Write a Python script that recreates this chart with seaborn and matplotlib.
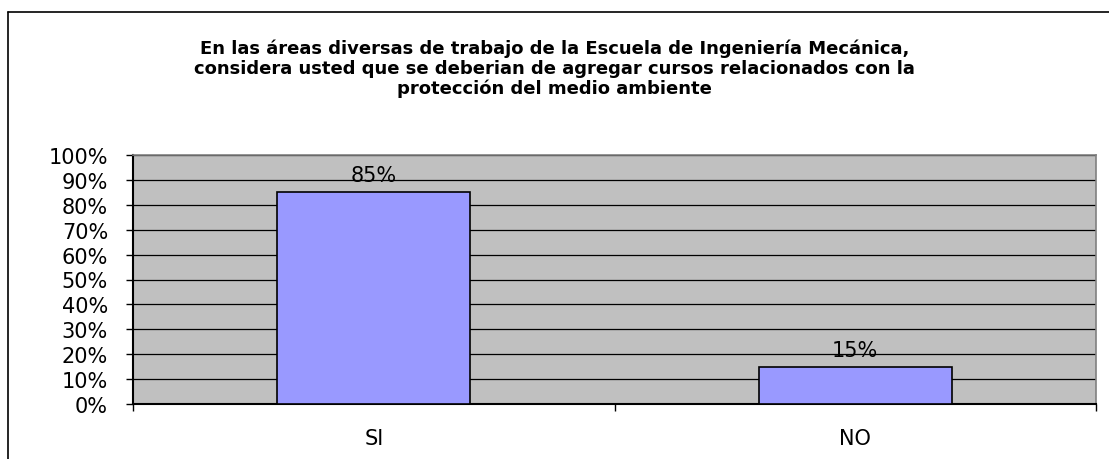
import matplotlib
matplotlib.use("Agg")
import matplotlib.pyplot as plt
import matplotlib.lines as mlines
from matplotlib.ticker import PercentFormatter, FixedLocator
import seaborn as sns
import pandas as pd

# ================= datos =================
categorias = ["SI", "NO"]
porcentajes = [0.85, 0.15]
etiquetas = ["85%", "15%"]
titulo = ("En las áreas diversas de trabajo de la Escuela de Ingeniería Mecánica,\n"
          "considera usted que se deberian de agregar cursos relacionados con la\n"
          "protección del medio ambiente")
# =========================================

sns.set_style("white")
# el original usa letras anchas (Arial estirada); DejaVu Sans se acerca mas
plt.rcParams["font.family"] = ["DejaVu Sans"]

df = pd.DataFrame({"cat": categorias, "val": porcentajes})

fig = plt.figure(figsize=(11.09, 4.60), dpi=100)
ax = fig.add_axes([133 / 1109, 1 - 405 / 460, 963 / 1109, 249 / 460])
ax.set_facecolor("#C0C0C0")

sns.barplot(data=df, x="cat", y="val", color="#9999FF", edgecolor="black",
            linewidth=1.2, width=0.4, saturation=1, ax=ax, zorder=3)

ax.bar_label(ax.containers[0], labels=etiquetas, padding=5, fontsize=15,
             color="black")

ax.set_xlim(-0.5, 1.5)
ax.set_ylim(0, 1)
ax.set_yticks([i / 10 for i in range(11)])
ax.yaxis.set_major_formatter(PercentFormatter(1.0, decimals=0))
ax.tick_params(axis="y", labelsize=15, length=5, width=1, color="black",
               labelcolor="black", pad=13, left=True)
ax.tick_params(axis="x", which="major", labelsize=15, length=0, pad=17,
               labelcolor="black")
ax.xaxis.set_minor_locator(FixedLocator([-0.5, 0.5, 1.5]))
ax.tick_params(axis="x", which="minor", length=5, width=1, color="black",
               bottom=True)
ax.set_xlabel("")
ax.set_ylabel("")

ax.set_axisbelow(True)
ax.yaxis.grid(True, color="black", linewidth=0.9)
ax.xaxis.grid(False)

for lado in ["left", "bottom"]:
    ax.spines[lado].set_color("black")
    ax.spines[lado].set_linewidth(1.5)
for lado in ["top", "right"]:
    ax.spines[lado].set_color("#808080")
    ax.spines[lado].set_linewidth(1.2)
    ax.spines[lado].set_visible(True)

fig.text(0.5, 1 - 40 / 460, titulo, ha="center", va="top", fontsize=13,
         fontweight="bold", linespacing=1.1, color="black")

# marco del grafico
W, H = 1109, 460
fig.add_artist(mlines.Line2D([8 / W, 1.0], [1 - 13 / H, 1 - 13 / H],
                             color="black", linewidth=1.2))
fig.add_artist(mlines.Line2D([8 / W, 8 / W], [1 - 13 / H, 0.0],
                             color="black", linewidth=1.2))

fig.savefig("out.png", dpi=100)
